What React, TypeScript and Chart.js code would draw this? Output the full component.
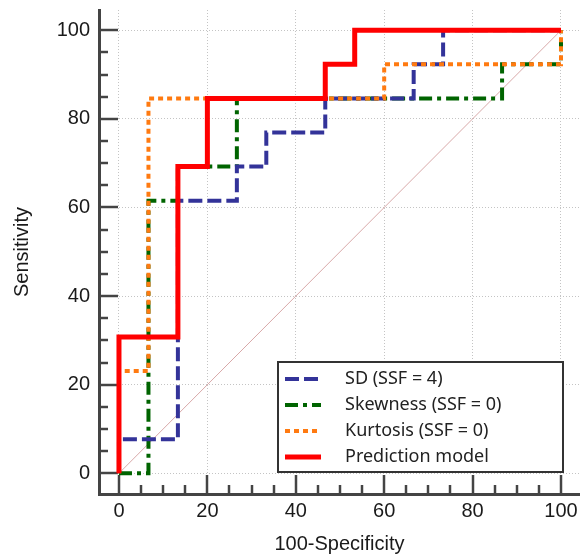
import React, { useEffect, useRef } from "react";
import { Chart, registerables } from "chart.js";

Chart.register(...registerables);

// ---- text ----
const X_TITLE = "100-Specificity";
const Y_TITLE = "Sensitivity";
const SERIES_LABELS = [
  "SD (SSF = 4)",
  "Skewness (SSF = 0)",
  "Kurtosis (SSF = 0)",
  "Prediction model",
];

// ---- axis ticks ----
const TICK_VALUES = [0, 20, 40, 60, 80, 100];
const MINOR_STEP = 5;
const X_MIN = -4.52;
const X_MAX = 104.3;
const Y_MIN = -4.67;
const Y_MAX = 104.58;

// ---- data (100-Specificity, Sensitivity) ----
const sdX = [0, 0, 13.33, 13.33, 26.67, 26.67, 33.33, 33.33, 46.67, 46.67, 66.67, 66.67, 73.33, 73.33, 100];
const sdY = [0, 7.69, 7.69, 61.54, 61.54, 69.23, 69.23, 76.92, 76.92, 84.62, 84.62, 92.31, 92.31, 100, 100];

const skX = [0, 6.67, 6.67, 13.33, 13.33, 26.67, 26.67, 86.67, 86.67, 100, 100];
const skY = [0, 0, 61.54, 61.54, 69.23, 69.23, 84.62, 84.62, 92.31, 92.31, 100];

const kuX = [0, 0, 6.67, 6.67, 60, 60, 100, 100];
const kuY = [0, 23.08, 23.08, 84.62, 84.62, 92.31, 92.31, 100];

const pmX = [0, 0, 13.33, 13.33, 20, 20, 46.67, 46.67, 53.33, 53.33, 100];
const pmY = [0, 30.77, 30.77, 69.23, 69.23, 84.62, 84.62, 92.31, 92.31, 100, 100];

const diagX = [0, 100];
const diagY = [0, 100];

const toPoints = (xs: number[], ys: number[]) => xs.map((x, i) => ({ x, y: ys[i] }));

const AXIS_FONT = { family: '"Liberation Sans", Arial, sans-serif', size: 20 };
const TEXT_COLOR = "#1a1a1a";
const AXIS_COLOR = "#444444";

const innerTicks = {
  id: "innerTicks",
  beforeDatasetsDraw(chart: any) {
    const { ctx, chartArea, scales } = chart;
    const xs = scales.x;
    const ys = scales.y;
    const lo = TICK_VALUES[0];
    const hi = TICK_VALUES[TICK_VALUES.length - 1];
    ctx.save();
    ctx.strokeStyle = AXIS_COLOR;
    ctx.lineWidth = 2.5;
    ctx.setLineDash([]);
    for (let v = lo; v <= hi; v += MINOR_STEP) {
      const major = TICK_VALUES.includes(v);
      const len = major ? 19 : 9;
      const px = Math.round(xs.getPixelForValue(v));
      ctx.beginPath();
      ctx.moveTo(px, chartArea.bottom);
      ctx.lineTo(px, chartArea.bottom - len);
      ctx.stroke();
      const py = Math.round(ys.getPixelForValue(v));
      ctx.beginPath();
      ctx.moveTo(chartArea.left, py);
      ctx.lineTo(chartArea.left + len, py);
      ctx.stroke();
    }
    ctx.restore();
  },
};

const boxLegend = {
  id: "boxLegend",
  afterDatasetsDraw(chart: any) {
    const { ctx } = chart;
    const L = 278, T = 362, R = 563, B = 472;
    ctx.save();
    ctx.fillStyle = "#ffffff";
    ctx.fillRect(L, T, R - L, B - T);
    ctx.strokeStyle = "#333333";
    ctx.lineWidth = 2;
    ctx.setLineDash([]);
    ctx.strokeRect(L, T, R - L, B - T);
    let row = 0;
    chart.data.datasets.forEach((ds: any) => {
      if (!ds.label) return;
      const y = 379 + row * 26;
      ctx.save();
      ctx.strokeStyle = ds.borderColor;
      ctx.lineWidth = ds.borderWidth;
      ctx.setLineDash(ds.borderDash || []);
      ctx.lineCap = "butt";
      ctx.beginPath();
      ctx.moveTo(285, y);
      ctx.lineTo(321, y);
      ctx.stroke();
      ctx.restore();
      ctx.fillStyle = "#222222";
      ctx.font = '18px "Noto Sans", sans-serif';
      ctx.textBaseline = "middle";
      ctx.textAlign = "left";
      ctx.fillText(ds.label, 345, y);
      row++;
    });
    ctx.restore();
  },
};

export default function App() {
  const ref = useRef<HTMLCanvasElement>(null);

  useEffect(() => {
    document.body.style.margin = "0";
    const lineCommon = { showLine: true, pointRadius: 0, fill: false, tension: 0, borderCapStyle: "butt", borderJoinStyle: "miter" };
    const chart = new Chart(ref.current as HTMLCanvasElement, {
      type: "scatter",
      data: {
        datasets: [
          { ...lineCommon, label: SERIES_LABELS[0], data: toPoints(sdX, sdY), borderColor: "#333399", borderWidth: 4, borderDash: [14, 5], order: 2 },
          { ...lineCommon, label: SERIES_LABELS[1], data: toPoints(skX, skY), borderColor: "#006400", borderWidth: 4, borderDash: [13, 5, 4, 5], order: 3 },
          { ...lineCommon, label: SERIES_LABELS[2], data: toPoints(kuX, kuY), borderColor: "#ff7a10", borderWidth: 4, borderDash: [5, 4], order: 1 },
          { ...lineCommon, label: SERIES_LABELS[3], data: toPoints(pmX, pmY), borderColor: "#ff0000", borderWidth: 5, order: 0 },
          { ...lineCommon, label: "", data: toPoints(diagX, diagY), borderColor: "#d8a8a8", borderWidth: 1, order: 4 },
        ] as any,
      },
      options: {
        responsive: false,
        animation: false,
        devicePixelRatio: 1,
        layout: { padding: { top: 10, right: 0, bottom: 0, left: 0 } },
        plugins: { legend: { display: false }, tooltip: { enabled: false } },
        scales: {
          x: {
            type: "linear",
            min: X_MIN,
            max: X_MAX,
            afterBuildTicks: (s: any) => {
              s.ticks = TICK_VALUES.map((v) => ({ value: v }));
            },
            afterFit: (s: any) => {
              s.height = 62;
              s.paddingLeft = 0;
              s.paddingRight = 0;
              s.paddingTop = 0;
              s.paddingBottom = 0;
            },
            grid: { color: "#c4c4c4", lineWidth: 1, drawTicks: false },
            border: { display: true, color: AXIS_COLOR, width: 3, dash: [1, 2] },
            ticks: { padding: 5, font: AXIS_FONT, color: TEXT_COLOR, maxRotation: 0, autoSkip: false },
            title: { display: true, text: X_TITLE, font: AXIS_FONT, color: TEXT_COLOR, padding: { top: 0, bottom: 0 } },
          },
          y: {
            type: "linear",
            min: Y_MIN,
            max: Y_MAX,
            afterBuildTicks: (s: any) => {
              s.ticks = TICK_VALUES.map((v) => ({ value: v }));
            },
            afterFit: (s: any) => {
              s.width = 99;
              s.paddingLeft = 0;
              s.paddingRight = 0;
              s.paddingTop = 0;
              s.paddingBottom = 0;
            },
            grid: { color: "#c4c4c4", lineWidth: 1, drawTicks: false },
            border: { display: true, color: AXIS_COLOR, width: 3, dash: [1, 2] },
            ticks: { padding: 9, font: AXIS_FONT, color: TEXT_COLOR, autoSkip: false },
            title: { display: true, text: Y_TITLE, font: AXIS_FONT, color: TEXT_COLOR, padding: { top: 10, bottom: 0 } },
          },
        },
      } as any,
      plugins: [innerTicks, boxLegend],
    });
    return () => chart.destroy();
  }, []);

  return (
    <canvas
      ref={ref}
      width={580}
      height={556}
      style={{ display: "block", width: 580, height: 556 }}
    />
  );
}
